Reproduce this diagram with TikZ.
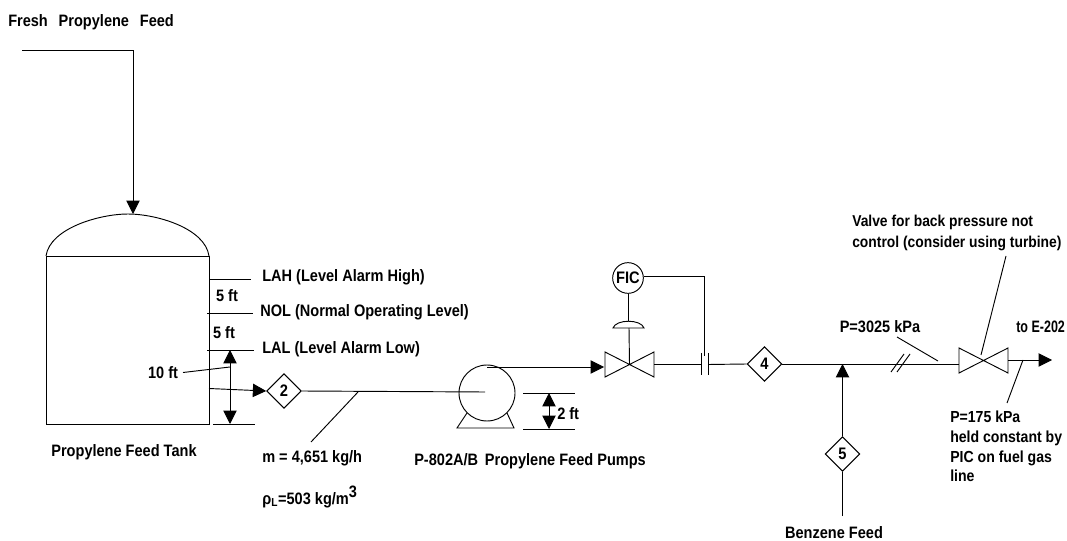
\documentclass[tikz,border=0pt]{standalone}
\usepackage{fontspec}
\setmainfont{Liberation Sans}[FakeStretch=0.88]
\usetikzlibrary{arrows.meta, shapes.geometric}
\tikzset{
  pipe/.style={black, line width=0.7pt},
  flow/.style={pipe, -{Triangle[length=10pt, width=10pt]}},
  both/.style={pipe, {Triangle[length=10pt, width=10pt]}-{Triangle[length=10pt, width=10pt]}},
  lbl/.style={font=\fontsize{12.4}{13}\selectfont\bfseries, inner sep=0pt, align=left},
  stream/.style={draw, pipe, shape=diamond, minimum width=26pt, minimum height=26pt, inner sep=0pt, font=\fontsize{12.5}{13}\selectfont\bfseries},
}

\begin{document}
\begin{tikzpicture}[x=0.75pt, y=-0.75pt]
  \useasboundingbox (0,0) rectangle (1067,541);

  % Feed tank, with the dome on top.
  \draw[pipe] (46,256) rectangle (209,424);
  \draw[pipe] (46,256) .. controls (50,228) and (100,214) .. (128,214) .. controls (156,214) and (205,228) .. (209,256);
  \coordinate (feedstart) at (22,50);
  \coordinate (feedbend) at (133,50);
  \coordinate (tanktop) at (133,214);
  \draw[flow] (feedstart) -- (feedbend) -- (tanktop);
  \node[lbl, anchor=west] (freshfeed) at (8,22) {Fresh~~\,Propylene~~\,Feed};
  \node[lbl] (tanklabel) at (124,452) {Propylene Feed Tank};

  % Level marks on the tank wall.
  \node[lbl, anchor=west] (lah) at (262,277) {LAH (Level Alarm High)};
  \node[lbl, anchor=west] (nol) at (260,312) {NOL (Normal Operating Level)};
  \node[lbl, anchor=west] (lal) at (262,349) {LAL (Level Alarm Low)};
  \coordinate (lahwall) at (209,279);
  \coordinate (lahend) at (251,279);
  \coordinate (nolwall) at (207,313);
  \coordinate (nolend) at (253,313);
  \coordinate (lalwall) at (207,350);
  \coordinate (lalend) at (254,350);
  \coordinate (floorstart) at (213,424);
  \coordinate (floorend) at (255,424);
  \draw[pipe] (lahwall) -- (lahend);
  \draw[pipe] (nolwall) -- (nolend);
  \draw[pipe] (lalwall) -- (lalend);
  \draw[pipe] (floorstart) -- (floorend);
  \coordinate (dimtop) at (230,350);
  \coordinate (dimbot) at (230,424);
  \draw[both] (dimtop) -- (dimbot);
  \node[lbl] (fiveup) at (227,296) {5 ft};
  \node[lbl] (fivelow) at (224,333) {5 ft};
  \node[lbl] (tenft) at (163,373) {10 ft};
  \coordinate (tentip) at (230,367);
  \draw[pipe] (183,372.5) -- (tentip);

  % Stream 2 out of the tank and into the pump.
  \node[stream] (s2) at (284,391) {2};
  \coordinate (tankout) at (209,388.5);
  \draw[flow] (tankout) -- (s2.west);
  \coordinate (pumpeye) at (485,392);
  \draw[pipe] (s2.east) -- (pumpeye);
  \coordinate (mtip) at (358,392);
  \coordinate (mfoot) at (311,442);
  \draw[pipe] (mtip) -- (mfoot);
  \node[lbl, anchor=west] (mflow) at (262,458) {m = 4,651 kg/h};
  \node[lbl, anchor=west] (rho) at (262,497) {ρ\textsubscript{L}=503 kg/m\raisebox{5pt}{3}};

  % Pump and its height mark.
  \node[draw, pipe, circle, minimum size=42pt, inner sep=0pt] (pump) at (487,393) {};
  \draw[pipe] (467,413) -- (457,428) -- (514,428) -- (507,413);
  \node[lbl, anchor=west] (pumplabel) at (414,461) {P-802A/B\, Propylene Feed Pumps};
  \draw[pipe] (523,393) -- (575,393);
  \draw[pipe] (523,429) -- (575,429);
  \coordinate (twotop) at (549,393);
  \coordinate (twobot) at (549,429);
  \draw[both] (twotop) -- (twobot);
  \node[lbl, anchor=west] (twoft) at (557,414) {2 ft};

  % Control valve with FIC and orifice plate.
  \coordinate (vone) at (629.5,364.5);
  \draw[pipe] (605,352) -- (654,377) -- (654,352) -- (605,377) -- cycle;
  \coordinate (pumpout) at (487,367);
  \coordinate (voneleft) at (604,367);
  \draw[flow] (pumpout) -- (voneleft);
  \node[draw, pipe, circle, minimum size=23pt, inner sep=0pt, font=\fontsize{12.5}{13}\selectfont\bfseries] (fic) at (628,278) {FIC};
  \draw[pipe] (613,328) .. controls (616,319) and (641,319) .. (644,328) -- cycle;
  \coordinate (actuator) at (628,321);
  \draw[pipe] (fic.south) -- (actuator);
  \draw[pipe] (629,328) -- (vone);
  \coordinate (ficbend) at (704,276);
  \coordinate (orifice) at (704,356);
  \draw[pipe] (fic.east |- ficbend) -- (ficbend) -- (orifice);
  \draw[pipe] (701,353) -- (701,375);
  \draw[pipe] (708,353) -- (708,375);
  \coordinate (orleft) at (701,364.5);
  \coordinate (orright) at (708,364.5);
  \coordinate (voneright) at (654,364.5);
  \draw[pipe] (voneright) -- (orleft);

  % Stream 4, the benzene joint and the back pressure valve.
  \node[stream] (s4) at (764.5,364) {4};
  \draw[pipe] (orright) -- (s4.west);
  \coordinate (vtwoleft) at (959,364);
  \draw[pipe] (s4.east) -- (vtwoleft);
  \draw[pipe] (959,348) -- (1008,373) -- (1008,348) -- (959,373) -- cycle;
  \node[stream] (s5) at (842.5,454) {5};
  \coordinate (joint) at (842.5,364);
  \draw[flow] (s5.north) -- (joint);
  \coordinate (benzstart) at (842.5,516);
  \draw[pipe] (benzstart) -- (s5.south);
  \node[lbl] (benzene) at (834,532.5) {Benzene Feed};
  \draw[pipe] (891,372) -- (904,354);
  \draw[pipe] (897,372) -- (910,354);
  \node[lbl] (p3025) at (880,327) {P=3025 kPa};
  \coordinate (ptip) at (938,361);
  \draw[pipe] (897,337) -- (ptip);

  % Outlet and its notes.
  \coordinate (vtworight) at (1008,360);
  \coordinate (outlet) at (1052,360);
  \draw[flow] (vtworight) -- (outlet);
  \node[lbl, anchor=west] (toe) at (1016,327) {\scalebox{0.86}[1]{to E-202}};
  \node[lbl, anchor=north west, font=\fontsize{11.8}{15.5}\selectfont\bfseries] (vnote) at (852,215) {Valve for back pressure not\\control (consider using turbine)};
  \coordinate (vnotetip) at (981,355);
  \draw[pipe] (1006,256) -- (vnotetip);
  \node[lbl, anchor=north west, font=\fontsize{12}{14.7}\selectfont\bfseries] (pnote) at (950,411) {P=175 kPa\\held constant by\\PIC on fuel gas\\line};
  \coordinate (pnotetip) at (1023,360);
  \draw[pipe] (pnotetip) -- (1007,403);
\end{tikzpicture}
\end{document}
